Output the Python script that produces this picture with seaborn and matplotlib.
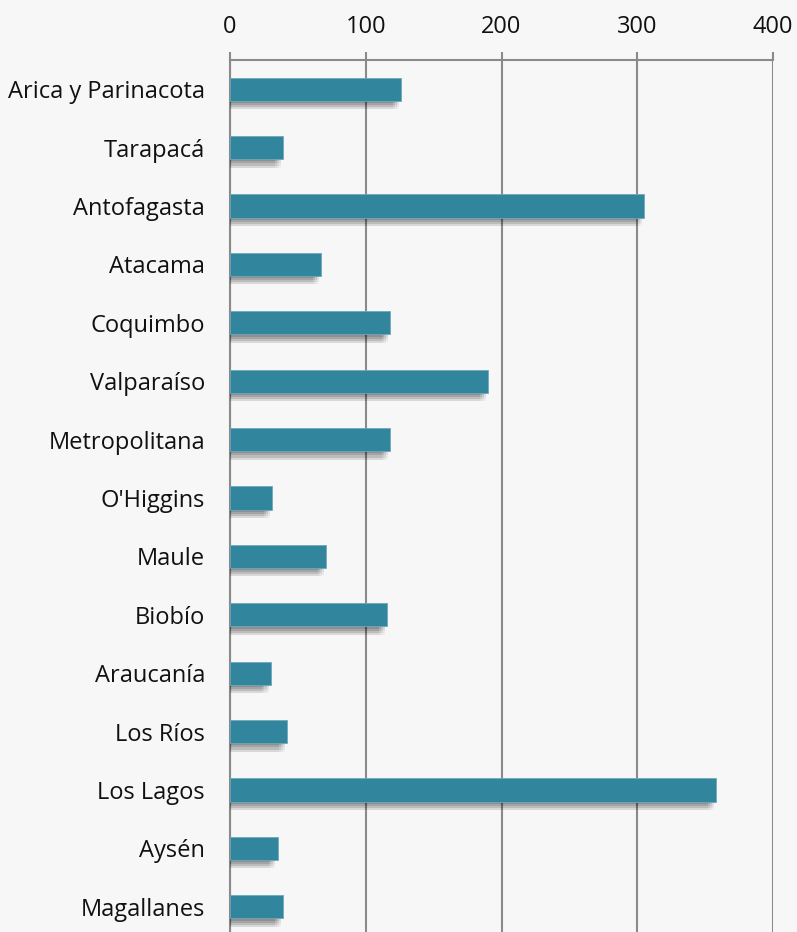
import numpy as np
import pandas as pd
import seaborn as sns
import matplotlib.pyplot as plt
import matplotlib.patheffects as pe
from matplotlib.ticker import FixedLocator

regions = ['Arica y Parinacota', 'Tarapacá', 'Antofagasta', 'Atacama', 'Coquimbo',
           'Valparaíso', 'Metropolitana', "O'Higgins", 'Maule', 'Biobío',
           'Araucanía', 'Los Ríos', 'Los Lagos', 'Aysén', 'Magallanes']
values = [126, 39, 305, 67, 118, 190, 118, 31, 71, 116, 30, 42, 358, 35, 39]
x_ticks = [0, 100, 200, 300, 400]

df = pd.DataFrame({'region': regions, 'value': values})

sns.set_style('white')
plt.rcParams['font.family'] = ['Open Sans', 'DejaVu Sans']

bg = '#f7f7f7'
grey = '#8a8a8a'
fig = plt.figure(figsize=(7.97, 9.32), dpi=100, facecolor=bg)
# axes runs a bit past the bottom edge, like the cropped original
ax = fig.add_axes([230 / 797, -4 / 932, 543 / 797, 876 / 932])
ax.set_facecolor(bg)

sns.barplot(data=df, y='region', x='value', orient='h', color='#31859c',
            width=0.4, saturation=1, ax=ax, zorder=3,
            edgecolor='#6fa9ba', linewidth=0.6)

# blurred drop shadow: stack of faint offset copies
shadow = []
for dx in (-6, -4.5, -3, -1.5):
    for dy in (-1.5, -3, -4.5, -6):
        shadow.append(pe.SimplePatchShadow(offset=(dx, dy), shadow_rgbFace='#000000',
                                           alpha=0.03))
for bar in ax.patches:
    bar.set_path_effects(shadow + [pe.Normal()])

ax.set_xlim(0, 400)
ax.set_ylim(len(regions) - 0.5, -0.5)
ax.xaxis.tick_top()
ax.set_xticks(x_ticks)
ax.tick_params(axis='x', direction='out', length=6, width=1.5, color=grey,
               labelsize=17, pad=9, labelcolor='#111111')
ax.grid(axis='x', color=grey, linewidth=1.5, zorder=1)

ax.yaxis.set_minor_locator(FixedLocator(np.arange(-0.5, len(regions), 1)))
ax.tick_params(axis='y', which='major', length=0, labelsize=17, pad=18,
               labelcolor='#111111')
ax.tick_params(axis='y', which='minor', direction='out', length=6, width=1.5,
               color=grey)

for side in ['right', 'bottom']:
    ax.spines[side].set_visible(False)
for side in ['top', 'left']:
    ax.spines[side].set_color(grey)
    ax.spines[side].set_linewidth(1.5)

ax.set_xlabel('')
ax.set_ylabel('')

fig.savefig('out.png', dpi=100, facecolor=bg)
